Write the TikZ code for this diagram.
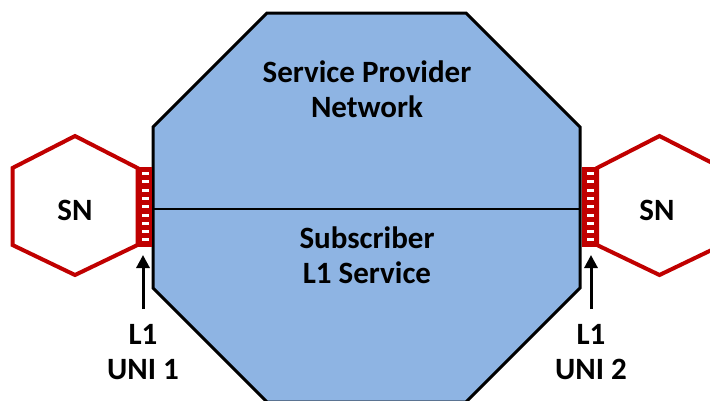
\documentclass[tikz,border=0pt]{standalone}
\usepackage{fontspec}
\setmainfont{Carlito}
\usetikzlibrary{arrows.meta}
\definecolor{netblue}{HTML}{8EB4E3}
\definecolor{snred}{HTML}{C00000}
\tikzset{
  lbl/.style={font=\fontsize{31}{35}\selectfont\bfseries, align=center, inner sep=0pt},
  hexline/.style={draw=snred, line width=4pt, line join=miter, fill=white},
  uniarrow/.style={line width=3pt, -{Triangle[width=13pt,length=13pt]}}
}
\begin{document}
\begin{tikzpicture}[x=1pt,y=-1pt]
\useasboundingbox (0,0) rectangle (710,400);
\clip (0,0) rectangle (710,400);
% octagon
\draw[fill=netblue, line width=3pt, line join=miter]
  (267,13) -- (466,13) -- (580,127) -- (580,288) -- (466,402) -- (267,402) -- (153,288) -- (153,127) -- cycle;
\coordinate (ml) at (153,209);
\coordinate (mr) at (580,209);
\draw[line width=2.5pt] (ml) -- (mr);
% hexagons
\draw[hexline] (75,136) -- (137.5,168) -- (137.5,245) -- (75,275) -- (12.5,245) -- (12.5,168) -- cycle;
\draw[hexline] (659.5,136) -- (722,168) -- (722,245) -- (659.5,275) -- (597,245) -- (597,168) -- cycle;
% UNI boxes
\node[fill=snred, minimum width=15pt, minimum height=80pt, inner sep=0pt] (box1) at (144.5,207) {};
\node[fill=snred, minimum width=15pt, minimum height=80pt, inner sep=0pt] (box2) at (589.5,207) {};
\foreach \k in {0,...,8}{
  \fill[white] (141.5,{172+8.3*\k}) rectangle (148.5,{175+8.3*\k});
  \fill[white] (586.5,{172+8.3*\k}) rectangle (593.5,{175+8.3*\k});
}
% texts
\node[lbl] (spn) at (367,89) {Service Provider\\Network};
\node[lbl] (sub) at (367,255) {Subscriber\\L1 Service};
\node[lbl] (sn1) at (75,210) {SN};
\node[lbl] (sn2) at (657,210) {SN};
\node[lbl] (uni1) at (143,352) {L1\\UNI 1};
\node[lbl] (uni2) at (591,352) {L1\\UNI 2};
% arrows
\coordinate (a1) at (uni1.north |- 0,309);
\coordinate (a2) at (uni2.north |- 0,309);
\draw[uniarrow] (a1) -- (a1 |- 0,255);
\draw[uniarrow] (a2) -- (a2 |- 0,255);
\end{tikzpicture}
\end{document}
